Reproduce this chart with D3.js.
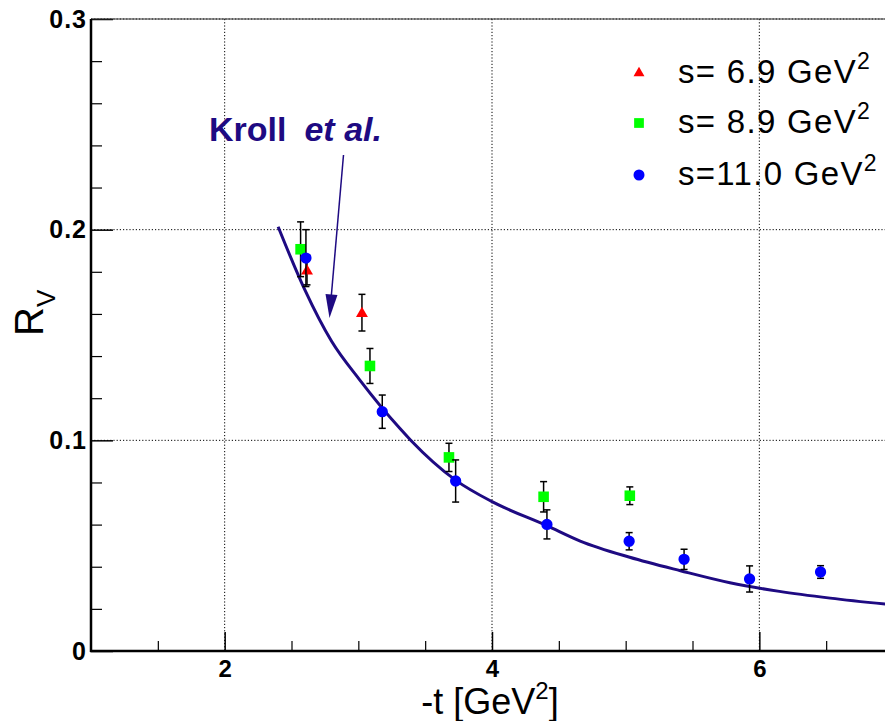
<!DOCTYPE html>
<html>
<head>
<meta charset="utf-8">
<script src="https://cdn.jsdelivr.net/npm/d3@7/dist/d3.min.js"></script>
<style>
  html, body { margin: 0; padding: 0; background: #fff; }
  svg { display: block; }
  text { font-family: "Liberation Sans", Arial, Helvetica, sans-serif; }
</style>
</head>
<body>
<svg id="chart" width="885" height="721"></svg>
<script>
// R_V measurements for three beam energies: [-t, R_V, error]
const s69 = [
  [2.616, 0.1808, 0.0070],
  [3.027, 0.1606, 0.0087]
];
const s89 = [
  [2.568, 0.1907, 0.0130],
  [3.087, 0.1353, 0.0083],
  [3.678, 0.0919, 0.0067],
  [4.386, 0.0732, 0.0072],
  [5.031, 0.0737, 0.0042]
];
const s110 = [
  [2.608, 0.1865, 0.0135],
  [3.179, 0.1136, 0.0079],
  [3.728, 0.0807, 0.0100],
  [4.411, 0.0601, 0.0069],
  [5.026, 0.0521, 0.0041],
  [5.437, 0.0435, 0.0048],
  [5.927, 0.0342, 0.0062],
  [6.458, 0.0375, 0.0030]
];
// Model curve (Kroll et al.): [-t, R_V]
const kroll = [
  [2.40, 0.2014], [2.60, 0.1714], [2.80, 0.1470], [3.01, 0.1287],
  [3.31, 0.1057], [3.39, 0.1002], [3.73, 0.0810], [4.00, 0.0709],
  [4.41, 0.0595], [4.66, 0.0522], [5.03, 0.0445], [5.41, 0.0381],
  [5.78, 0.0324], [6.15, 0.0283], [6.53, 0.0251], [7.00, 0.0219]
];
const xMajor = [2, 4, 6];
const xMinor = [1.5, 2.5, 3, 3.5, 4.5, 5, 5.5, 6.5];
const yMajor = [0, 0.1, 0.2, 0.3];
const yMinor = [0.02, 0.04, 0.06, 0.08, 0.12, 0.14, 0.16, 0.18, 0.22, 0.24, 0.26, 0.28];
const legendItems = [
  { label: "s= 6.9 GeV", shape: "triangle", color: "#ff0000" },
  { label: "s= 8.9 GeV", shape: "square", color: "#00ff00" },
  { label: "s=11.0 GeV", shape: "circle", color: "#0000ff" }
];

const svg = d3.select("#chart");
const pLeft = 91, pTop = 19, pRight = 893, pBottom = 651;
const x = d3.scaleLinear().domain([1, 7]).range([pLeft, pRight]);
const y = d3.scaleLinear().domain([0, 0.3]).range([pBottom, pTop]);
const navy = "#1e0a82";

// grid
const grid = svg.append("g").attr("stroke", "#000").attr("stroke-width", 1)
  .attr("stroke-dasharray", "1.2,2");
grid.selectAll("line.gx").data(xMajor).join("line")
  .attr("x1", d => x(d)).attr("x2", d => x(d)).attr("y1", pTop).attr("y2", pBottom);
grid.selectAll("line.gy").data(yMajor.filter(d => d > 0)).join("line")
  .attr("y1", d => y(d)).attr("y2", d => y(d)).attr("x1", pLeft).attr("x2", pRight);

// axes
const xAxis = d3.axisBottom(x).tickValues(xMajor).tickSize(-19).tickFormat(d3.format("d")).tickPadding(9);
const gx = svg.append("g").attr("transform", `translate(0,${pBottom})`).call(xAxis);
gx.select(".domain").remove();
gx.selectAll(".tick line").attr("stroke", "#000").attr("stroke-width", 1.5);
gx.selectAll(".tick text").attr("font-size", 24).attr("font-weight", "bold").attr("fill", "#000")
  .attr("font-family", "Liberation Sans, Arial, sans-serif");
const gxm = svg.append("g").attr("transform", `translate(0,${pBottom})`)
  .call(d3.axisBottom(x).tickValues(xMinor).tickSize(-10).tickFormat(""));
gxm.select(".domain").remove();
gxm.selectAll(".tick line").attr("stroke", "#000").attr("stroke-width", 1.2);

const yAxis = d3.axisLeft(y).tickValues(yMajor).tickSize(-22)
  .tickFormat(d => d === 0 ? "0" : d3.format(".1f")(d)).tickPadding(4);
const gy = svg.append("g").attr("transform", `translate(${pLeft},0)`).call(yAxis);
gy.select(".domain").remove();
gy.selectAll(".tick line").attr("stroke", "#000").attr("stroke-width", 1.5);
gy.selectAll(".tick text").attr("font-size", 25).attr("font-weight", "bold").attr("fill", "#000")
  .attr("letter-spacing", 1)
  .attr("font-family", "Liberation Sans, Arial, sans-serif").attr("x", -4);
const gym = svg.append("g").attr("transform", `translate(${pLeft},0)`)
  .call(d3.axisLeft(y).tickValues(yMinor).tickSize(-11).tickFormat(""));
gym.select(".domain").remove();
gym.selectAll(".tick line").attr("stroke", "#000").attr("stroke-width", 1.2);

// frame
svg.append("line").attr("x1", pLeft).attr("x2", pRight).attr("y1", pTop).attr("y2", pTop)
  .attr("stroke", "#333").attr("stroke-width", 1.2);
svg.append("line").attr("x1", pLeft).attr("x2", pLeft).attr("y1", pTop).attr("y2", pBottom + 1)
  .attr("stroke", "#000").attr("stroke-width", 2.5);
svg.append("line").attr("x1", pLeft - 1).attr("x2", pRight).attr("y1", pBottom).attr("y2", pBottom)
  .attr("stroke", "#000").attr("stroke-width", 2.5);

// axis titles
const xt = svg.append("text").attr("x", 490).attr("y", 714).attr("text-anchor", "middle")
  .attr("font-size", 36).attr("fill", "#000");
xt.append("tspan").text("-t [GeV");
xt.append("tspan").attr("font-size", 24).attr("dy", -15).text("2");
xt.append("tspan").attr("dy", 15).text("]");

const yt = svg.append("text").attr("transform", "translate(43,336) rotate(-90)")
  .attr("font-size", 40).attr("fill", "#000");
yt.append("tspan").text("R");
yt.append("tspan").attr("font-size", 26).attr("dy", 12).text("V");

// model curve
const line = d3.line().x(d => x(d[0])).y(d => y(d[1])).curve(d3.curveMonotoneX);
svg.append("path").datum(kroll).attr("d", line).attr("fill", "none")
  .attr("stroke", navy).attr("stroke-width", 3);

// markers
const symbolFor = {
  triangle: d3.symbol().type(d3.symbolTriangle).size(62),
  square: d3.symbol().type(d3.symbolSquare).size(112),
  circle: d3.symbol().type(d3.symbolCircle).size(100)
};
function drawSeries(data, shape, color) {
  const g = svg.append("g");
  const eb = g.selectAll("g.eb").data(data).join("g").attr("stroke", "#000").attr("stroke-width", 1.5);
  eb.append("line").attr("x1", d => x(d[0])).attr("x2", d => x(d[0]))
    .attr("y1", d => y(d[1] - d[2])).attr("y2", d => y(d[1] + d[2]));
  eb.append("line").attr("x1", d => x(d[0]) - 3.5).attr("x2", d => x(d[0]) + 3.5)
    .attr("y1", d => y(d[1] - d[2])).attr("y2", d => y(d[1] - d[2]));
  eb.append("line").attr("x1", d => x(d[0]) - 3.5).attr("x2", d => x(d[0]) + 3.5)
    .attr("y1", d => y(d[1] + d[2])).attr("y2", d => y(d[1] + d[2]));
  g.selectAll("path.m").data(data).join("path")
    .attr("transform", d => `translate(${x(d[0])},${y(d[1]) + (shape === "triangle" ? 1 : 0)})`)
    .attr("d", symbolFor[shape]()).attr("fill", color);
}
drawSeries(s69, "triangle", "#ff0000");
drawSeries(s89, "square", "#00ff00");
drawSeries(s110, "circle", "#0000ff");

// annotation
const ann = svg.append("text").attr("x", 209).attr("y", 141).attr("font-size", 34)
  .attr("font-weight", "bold").attr("fill", navy);
ann.append("tspan").text("Kroll");
ann.append("tspan").attr("dx", 18).attr("font-style", "italic").text("et al.");
svg.append("line").attr("x1", 343.5).attr("y1", 155).attr("x2", 331.3).attr("y2", 296)
  .attr("stroke", navy).attr("stroke-width", 1.5);
svg.append("path").attr("d", "M325.5,294 L337.5,295 L329.5,318 Z").attr("fill", navy);

// legend
const lg = svg.append("g");
const rows = [83, 133, 185];
legendItems.forEach((it, i) => {
  const sym = d3.symbol().type(it.shape === "triangle" ? d3.symbolTriangle
    : it.shape === "square" ? d3.symbolSquare : d3.symbolCircle)
    .size(it.shape === "triangle" ? 52 : 95);
  lg.append("path").attr("transform", `translate(639,${rows[i] - 10})`)
    .attr("d", sym()).attr("fill", it.color);
  const t = lg.append("text").attr("x", 678).attr("y", rows[i]).attr("font-size", 33)
    .attr("letter-spacing", 1.3).attr("fill", "#000");
  t.append("tspan").text(it.label);
  t.append("tspan").attr("font-size", 23).attr("dy", -14).text("2");
});
</script>
</body>
</html>
